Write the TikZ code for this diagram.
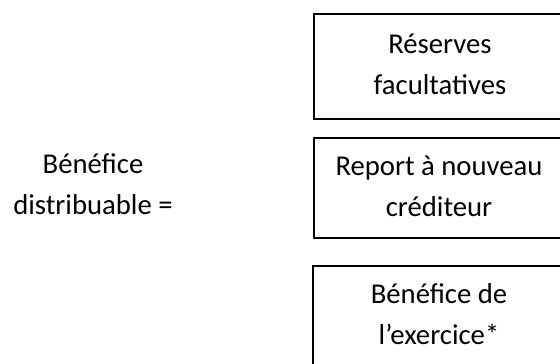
\documentclass[tikz,border=0pt]{standalone}
\usepackage{fontspec}
\setmainfont{Carlito}
\begin{document}
\begin{tikzpicture}[x=1pt,y=1pt,
  box/.style={draw=black, line width=1.9pt, rectangle, inner sep=0pt, anchor=north west},
  label/.style={inner sep=0pt, anchor=base, font=\fontsize{28.7}{41}\selectfont}]
  \useasboundingbox (0,0) rectangle (560,-364);
  \clip (0,0) rectangle (560,-364);
  % three framed terms on the right, running past the right edge
  \node[box, minimum width=270pt, minimum height=105pt] (b1) at (313,-13) {};
  \node[box, minimum width=270pt, minimum height=100pt] (b2) at (313,-137) {};
  \node[box, minimum width=270pt, minimum height=130pt] (b3) at (312,-265) {};
  % their texts
  \node[label] (t1) at (440,-53) {\begin{tabular}[t]{@{}c@{}}Réserves\\facultatives\end{tabular}};
  \node[label] (t2) at (439,-175) {\begin{tabular}[t]{@{}c@{}}Report à nouveau\\créditeur\end{tabular}};
  \node[label] (t3) at (439,-303.5) {\begin{tabular}[t]{@{}c@{}}Bénéfice de\\l’exercice*\end{tabular}};
  % left-hand side of the equation
  \node[label] (lhs) at (93,-173) {\begin{tabular}[t]{@{}c@{}}Bénéfice\\distribuable =\end{tabular}};
\end{tikzpicture}
\end{document}
